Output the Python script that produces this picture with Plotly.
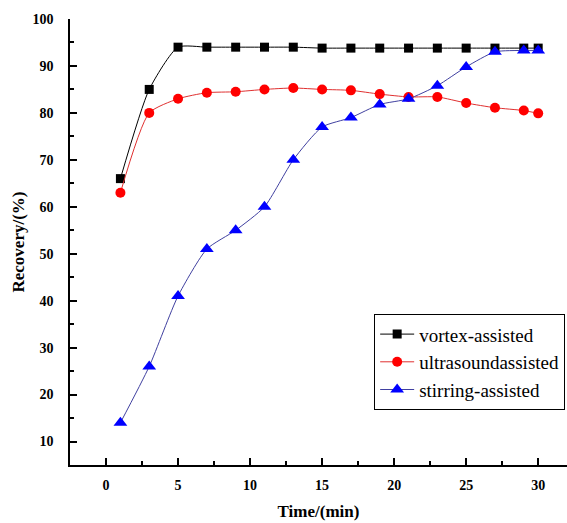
import plotly.graph_objects as go

time = [1, 3, 5, 7, 9, 11, 13, 15, 17, 19, 21, 23, 25, 27, 29, 30]
vortex = [66, 85, 94, 94, 94, 94, 94, 93.8, 93.8, 93.8, 93.8, 93.8, 93.8, 93.8, 93.8, 93.8]
ultrasound = [63, 80, 83, 84.3, 84.5, 85, 85.3, 85, 84.8, 84, 83.4, 83.4, 82.1, 81.1, 80.5, 79.9]
stirring = [14, 26, 41, 51, 55, 60, 70, 77, 79, 81.8, 83, 85.8, 89.8, 93, 93.3, 93.3]

font_family = "Liberation Serif"

fig = go.Figure()
fig.add_trace(go.Scatter(x=time, y=vortex, name="vortex-assisted", mode="lines+markers",
                         line=dict(color="black", width=1, shape="spline", smoothing=0.6),
                         marker=dict(symbol="square", size=9, color="black")))
fig.add_trace(go.Scatter(x=time, y=ultrasound, name="ultrasoundassisted", mode="lines+markers",
                         line=dict(color="#e03030", width=1, shape="spline", smoothing=0.6),
                         marker=dict(symbol="circle", size=10, color="red")))
fig.add_trace(go.Scatter(x=time, y=stirring, name="stirring-assisted", mode="lines+markers",
                         line=dict(color="#4040a0", width=1, shape="spline", smoothing=0.6),
                         marker=dict(symbol="triangle-up", size=12, color="blue")))

fig.update_layout(
    width=567, height=523,
    margin=dict(l=70, r=0, t=19, b=58, autoexpand=False),
    paper_bgcolor="white", plot_bgcolor="white",
    font=dict(family=font_family, color="black"),
    showlegend=True,
    legend=dict(x=0.612, y=0.338, xanchor="left", yanchor="top",
                bordercolor="black", borderwidth=1, bgcolor="white",
                font=dict(size=19, family=font_family, color="black"),
                itemwidth=34, tracegroupgap=0),
    xaxis=dict(range=[-2.5, 32.0], tickvals=[0, 5, 10, 15, 20, 25, 30],
               ticks="inside", ticklen=7, tickwidth=1.5, tickcolor="black",
               minor=dict(tickvals=[2.5, 7.5, 12.5, 17.5, 22.5, 27.5], ticks="inside", ticklen=4, tickcolor="black"),
               showline=True, linecolor="black", linewidth=1.5, showgrid=False, zeroline=False,
               ticklabelstandoff=6,
               tickfont=dict(size=14, family=font_family, weight="bold"),
               title=dict(text="<b>Time/(min)</b>", font=dict(size=17, family=font_family), standoff=14)),
    yaxis=dict(range=[5, 100], tickvals=[10, 20, 30, 40, 50, 60, 70, 80, 90, 100],
               ticks="inside", ticklen=7, tickwidth=1.5, tickcolor="black",
               minor=dict(tickvals=[15, 25, 35, 45, 55, 65, 75, 85, 95], ticks="inside", ticklen=4, tickcolor="black"),
               showline=True, linecolor="black", linewidth=1.5, showgrid=False, zeroline=False,
               ticklabelstandoff=12,
               tickfont=dict(size=14, family=font_family, weight="bold"),
               title=dict(text="<b>Recovery/(%)</b>", font=dict(size=17, family=font_family), standoff=4)),
)

fig.write_html("out.html")
